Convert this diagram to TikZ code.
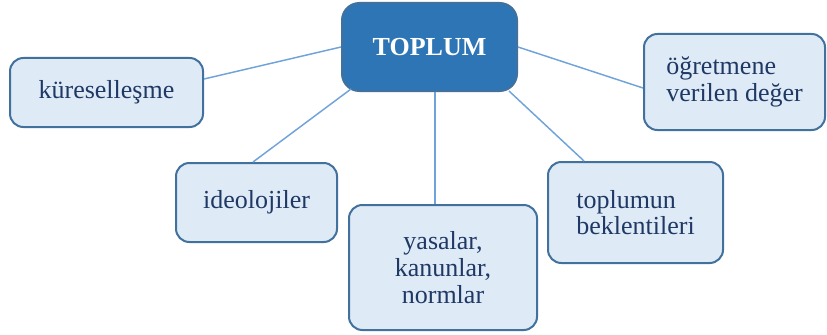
\documentclass[tikz,border=0pt]{standalone}
\usepackage{fontspec}
\setmainfont{LiberationSerif}[Extension=.ttf, UprightFont=*-Regular, BoldFont=*-Bold, ItalicFont=*-Italic, BoldItalicFont=*-BoldItalic]
\usetikzlibrary{calc}
\definecolor{topfill}{HTML}{2E75B6}
\definecolor{topborder}{HTML}{41719C}
\definecolor{boxfill}{HTML}{DEEBF7}
\definecolor{boxborder}{HTML}{41719C}
\definecolor{txt}{HTML}{1F3864}
\definecolor{link}{HTML}{6FA3DA}
\begin{document}
\begin{tikzpicture}[x=0.75pt,y=-0.75pt,
  mainbox/.style={draw=topborder, fill=topfill, line width=1.5pt, rounded corners=13pt,
    inner sep=0pt, text=white, font=\fontsize{19.5}{21}\selectfont\bfseries},
  leafbox/.style={draw=boxborder, fill=boxfill, line width=1.5pt, rounded corners=10pt,
    inner sep=0pt, text=txt, font=\fontsize{19.5}{20}\selectfont},
  linkline/.style={draw=link, line width=1.1pt}]
\useasboundingbox (0,0) rectangle (827,335);
\node[mainbox, minimum width=131.25pt, minimum height=66pt] (top) at (429.5,47) {TOPLUM};
\node[leafbox, minimum width=144.75pt, minimum height=51.75pt] (kur) at (106.5,92.5) {küreselleşme};
\node[leafbox, minimum width=120.75pt, minimum height=59.25pt] (ideo) at (256.5,202.5) {ideolojiler};
\node[leafbox, minimum width=141pt, minimum height=93.75pt, align=center] (yas) at (443,267.5) {yasalar,\\kanunlar,\\normlar};
\node[leafbox, minimum width=131.25pt, minimum height=75.75pt, align=left] (topl) at (635.5,212.5) {toplumun\\beklentileri};
\node[leafbox, minimum width=135.75pt, minimum height=72pt, align=left] (ogr) at (734.5,82) {öğretmene\\verilen değer};
\draw[linkline] ($(kur.east)+(0,-13.5)$) -- (top.west);
\draw[linkline] ($(ideo.north)+(-3.5,0)$) -- ($(top.south west)+(10,-3)$);
\draw[linkline] ($(top.south)+(5.5,0)$) -- ($(yas.north)+(-8,0)$);
\draw[linkline] ($(top.south east)+(-9,-1)$) -- ($(topl.north)+(-51.5,0)$);
\draw[linkline] (top.east) -- ($(ogr.west)+(0,6)$);
\end{tikzpicture}
\end{document}
